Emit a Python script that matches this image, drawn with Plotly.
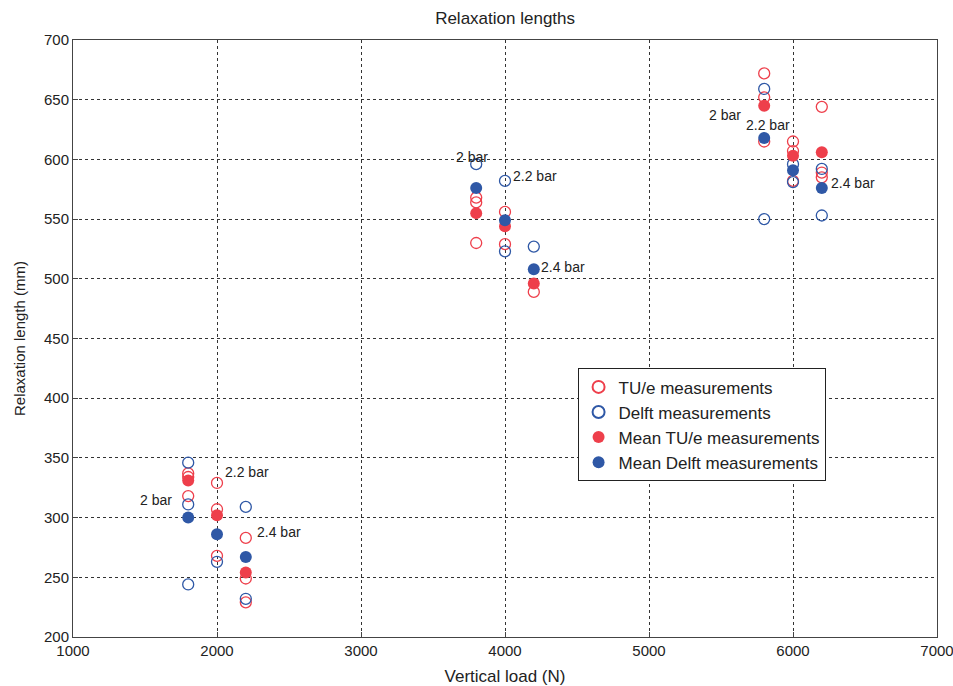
import plotly.graph_objects as go

# Individual measurements (vertical load in N, relaxation length in mm)
tue_load = [1800, 1800, 1800, 2000, 2000, 2000, 2200, 2200, 2200,
            3800, 3800, 3800, 4000, 4000, 4200,
            5800, 5800, 5800, 6000, 6000, 6000, 6200, 6200, 6200]
tue_len = [337, 334, 318, 329, 307, 268, 283, 249, 229,
           568, 564, 530, 556, 529, 489,
           672, 652, 615, 615, 607, 582, 644, 589, 585]

delft_load = [1800, 1800, 1800, 2000, 2200, 2200,
              3800, 4000, 4000, 4200,
              5800, 5800, 6000, 6000, 6200, 6200]
delft_len = [346, 311, 244, 263, 309, 232,
             596, 582, 523, 527,
             659, 550, 596, 581, 592, 553]

# Means per load / pressure combination
mean_load = [1800, 2000, 2200, 3800, 4000, 4200, 5800, 6000, 6200]
mean_tue = [331, 302, 254, 555, 544, 496, 645, 603, 606]
mean_delft = [300, 286, 267, 576, 549, 508, 618, 591, 576]

# Inflation pressure annotations
bar_text = ["2 bar", "2.2 bar", "2.4 bar", "2 bar", "2.2 bar", "2.4 bar",
            "2 bar", "2.2 bar", "2.4 bar"]
bar_x = [1576, 2208, 2430, 3771, 4208, 4403, 5528, 5826, 6417]
bar_y = [315, 338, 288, 602, 586, 510, 637, 629, 580]

RED = "#ee3f4b"
BLUE = "#2f58a6"
FONT = "Liberation Sans, Arial, sans-serif"
INK = "#222"

fig = go.Figure()
fig.add_trace(go.Scatter(
    x=tue_load, y=tue_len, mode="markers", name="TU/e measurements",
    marker=dict(symbol="circle-open", size=11, color=RED, line=dict(width=1.3))))
fig.add_trace(go.Scatter(
    x=delft_load, y=delft_len, mode="markers", name="Delft measurements",
    marker=dict(symbol="circle-open", size=11, color=BLUE, line=dict(width=1.3))))
fig.add_trace(go.Scatter(
    x=mean_load, y=mean_tue, mode="markers", name="Mean TU/e measurements",
    marker=dict(symbol="circle", size=12, color=RED)))
fig.add_trace(go.Scatter(
    x=mean_load, y=mean_delft, mode="markers", name="Mean Delft measurements",
    marker=dict(symbol="circle", size=12, color=BLUE)))

for t, x, y in zip(bar_text, bar_x, bar_y):
    fig.add_annotation(x=x, y=y, text=t, showarrow=False,
                       font=dict(family=FONT, size=14, color=INK))

axis_common = dict(
    showline=True, mirror=True, linecolor="#444", linewidth=1,
    showgrid=True, gridcolor="#333", griddash="3px,3px", gridwidth=1,
    ticks="inside", ticklen=5, tickcolor="#444",
    tickfont=dict(family=FONT, size=15, color=INK),
    ticklabeloverflow="allow", automargin=False,
    zeroline=False,
)

fig.update_layout(
    width=953, height=686,
    margin=dict(l=73, r=16, t=40, b=49, autoexpand=False),
    paper_bgcolor="white", plot_bgcolor="white",
    title=dict(text="Relaxation lengths", x=0.53, xanchor="center",
               y=0.974, yanchor="middle",
               font=dict(family=FONT, size=17, color=INK)),
    xaxis=dict(range=[1000, 7000], dtick=1000,
               title=dict(text="Vertical load (N)", standoff=12,
                          font=dict(family=FONT, size=17, color=INK)),
               **axis_common),
    yaxis=dict(range=[200, 700], dtick=50,
               title=dict(text="Relaxation length (mm)", standoff=14,
                          font=dict(family=FONT, size=15, color=INK)),
               **axis_common),
    legend=dict(x=0.584, y=0.45, xanchor="left", yanchor="top",
                bgcolor="white", bordercolor=INK, borderwidth=1,
                font=dict(family=FONT, size=17, color=INK),
                itemsizing="constant", tracegroupgap=0),
    showlegend=True,
)

fig.write_html("out.html")
